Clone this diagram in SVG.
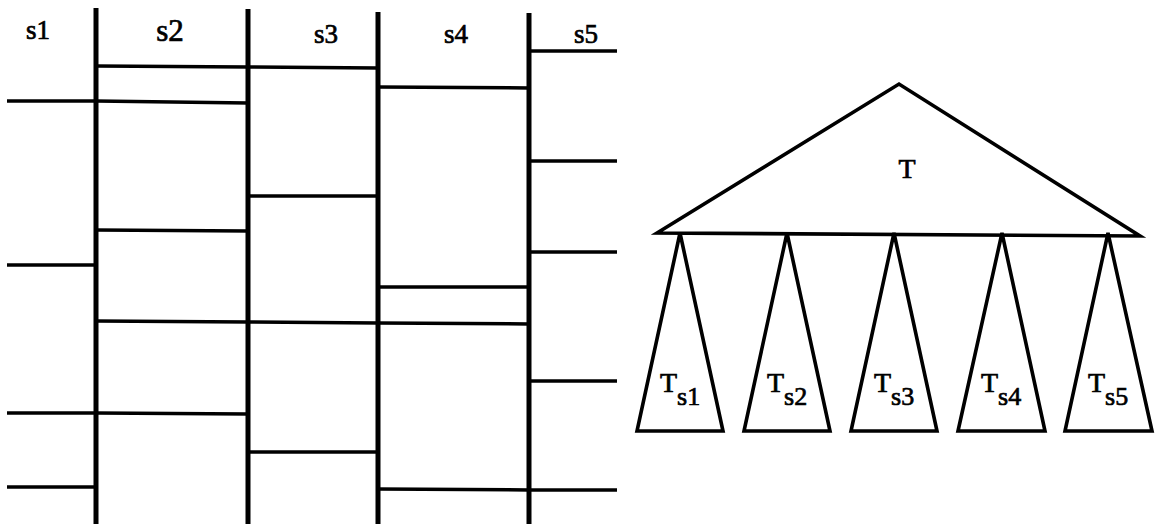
<svg xmlns="http://www.w3.org/2000/svg" width="1161" height="524" viewBox="0 0 1161 524">
<style>
.v{stroke:#000;stroke-width:5;fill:none}
.h{stroke:#000;stroke-width:3.5;fill:none}
.tri{stroke:#000;stroke-width:3.6;fill:none;stroke-linejoin:miter}
.lbl{font-family:"Liberation Serif","DejaVu Serif","Times New Roman",serif;font-size:27px;fill:#000;stroke:#000;stroke-width:0.7}
.big{font-size:28px}
.sub{font-size:26px}
.s2{font-size:31px}
</style>
<rect width="1161" height="524" fill="#fff"/>
<g id="slabs">
<g id="dividers">
<line class="v" x1="96" y1="8" x2="96" y2="524"/>
<line class="v" x1="248" y1="9" x2="248" y2="524"/>
<line class="v" x1="378" y1="12" x2="378" y2="524"/>
<line class="v" x1="529" y1="13" x2="529" y2="524"/>
</g>
<g id="s1-col">
<text class="lbl" x="38" y="39" text-anchor="middle">s1</text>
<line class="h" x1="7" y1="101" x2="96" y2="101"/>
<line class="h" x1="7" y1="265" x2="96" y2="265"/>
<line class="h" x1="7" y1="413" x2="96" y2="413"/>
<line class="h" x1="7" y1="487" x2="96" y2="487"/>
</g>
<g id="s2-col">
<text class="lbl s2" x="170" y="41" text-anchor="middle">s2</text>
<line class="h" x1="96" y1="66" x2="248" y2="67"/>
<line class="h" x1="96" y1="101" x2="248" y2="103"/>
<line class="h" x1="96" y1="230" x2="248" y2="231"/>
<line class="h" x1="96" y1="321" x2="248" y2="322"/>
<line class="h" x1="96" y1="413" x2="248" y2="414"/>
</g>
<g id="s3-col">
<text class="lbl" x="326" y="43" text-anchor="middle">s3</text>
<line class="h" x1="248" y1="67" x2="378" y2="68"/>
<line class="h" x1="248" y1="196" x2="378" y2="196"/>
<line class="h" x1="248" y1="322" x2="378" y2="323"/>
<line class="h" x1="248" y1="452" x2="378" y2="452"/>
</g>
<g id="s4-col">
<text class="lbl" x="456" y="43" text-anchor="middle">s4</text>
<line class="h" x1="378" y1="87" x2="529" y2="88"/>
<line class="h" x1="378" y1="287" x2="529" y2="287"/>
<line class="h" x1="378" y1="323" x2="529" y2="324"/>
<line class="h" x1="378" y1="489" x2="529" y2="490"/>
</g>
<g id="s5-col">
<text class="lbl" x="586" y="43" text-anchor="middle">s5</text>
<line class="h" x1="529" y1="51" x2="617" y2="51"/>
<line class="h" x1="529" y1="161" x2="617" y2="161"/>
<line class="h" x1="529" y1="252" x2="617" y2="252"/>
<line class="h" x1="529" y1="381" x2="617" y2="381"/>
<line class="h" x1="529" y1="490" x2="617" y2="490"/>
</g>
</g>
<g id="tree">
<g id="T">
<polygon class="tri" points="657,233 899,84 1140,236"/>
<text class="lbl big" x="907" y="178" text-anchor="middle">T</text>
</g>
<g id="Ts1">
<polygon class="tri" points="680,233 723,431 637,431"/>
<text class="lbl big" x="660" y="392">T<tspan class="sub" dy="13">s1</tspan></text>
</g>
<g id="Ts2">
<polygon class="tri" points="787,233 830,431 744,431"/>
<text class="lbl big" x="767" y="392">T<tspan class="sub" dy="13">s2</tspan></text>
</g>
<g id="Ts3">
<polygon class="tri" points="894,233 937,431 851,431"/>
<text class="lbl big" x="874" y="392">T<tspan class="sub" dy="13">s3</tspan></text>
</g>
<g id="Ts4">
<polygon class="tri" points="1002,233 1045,431 958,431"/>
<text class="lbl big" x="981" y="392">T<tspan class="sub" dy="13">s4</tspan></text>
</g>
<g id="Ts5">
<polygon class="tri" points="1108,233 1152,431 1065,431"/>
<text class="lbl big" x="1088" y="392">T<tspan class="sub" dy="13">s5</tspan></text>
</g>
</g>
</svg>
